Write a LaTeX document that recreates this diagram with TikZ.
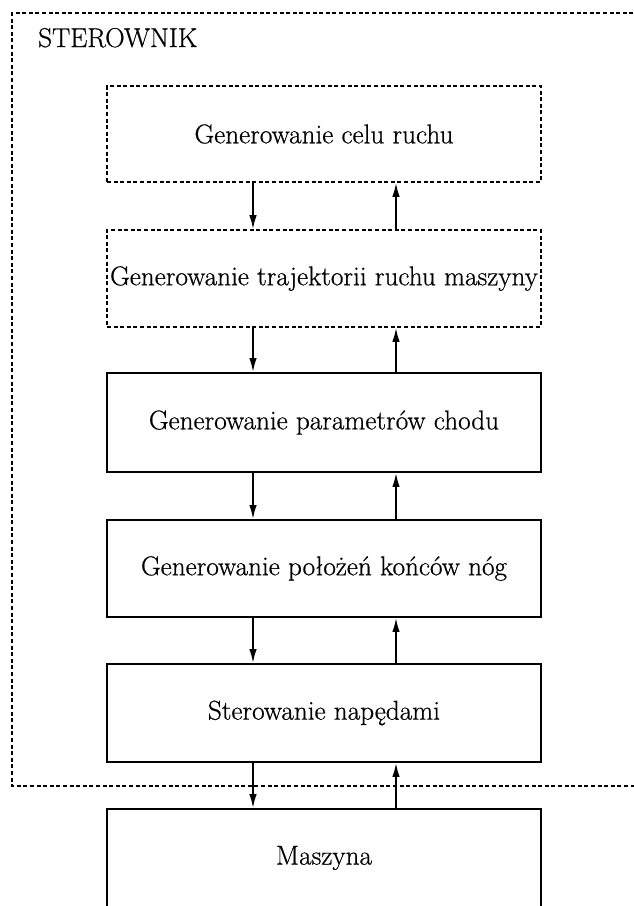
\documentclass[tikz,border=0pt]{standalone}
\usepackage{fontspec}
\setmainfont{Latin Modern Roman}[FakeBold=0.6]
\usetikzlibrary{arrows.meta}
\begin{document}
\begin{tikzpicture}[x=1pt,y=-1pt,
  every node/.style={font=\fontsize{27.2}{32}\selectfont},
  blk/.style={draw, line width=1.9pt, minimum width=434pt, inner sep=0pt, line join=miter},
  dblk/.style={draw, line width=1.6pt, dash pattern=on 4pt off 2.6pt, minimum width=434pt, inner sep=0pt},
  arr/.style={line width=1.8pt, -{Latex[length=14pt,width=7.5pt]}},
  outer/.style={line width=1.4pt, dash pattern=on 4pt off 2.6pt}]
\useasboundingbox (0,0) rectangle (634,906);
\fill[white] (0,0) rectangle (634,906);
% outer controller frame
\draw[outer] (640,13) -- (12,13) -- (12,786) -- (640,786);
\node[anchor=base west, inner sep=0pt] (ster) at (38,47) {STEROWNIK};
% blocks
\node[dblk, minimum height=96pt] (b1) at (324,134) {Generowanie celu ruchu};
\node[dblk, minimum height=97pt] (b2) at (324,278.5) {Generowanie trajektorii ruchu maszyny};
\node[blk, minimum height=99pt] (b3) at (324,422.5) {Generowanie parametrów chodu};
\node[blk, minimum height=97pt] (b4) at (324,568.5) {Generowanie położeń końców nóg};
\node[blk, minimum height=98pt] (b5) at (324,713) {Sterowanie napędami};
\node[blk, minimum height=98pt] (m) at (324,858) {Maszyna};
% arrow columns
\coordinate (dl) at (253,0);
\coordinate (ul) at (396,0);
\foreach \a/\b in {b1/b2,b2/b3,b3/b4,b4/b5,b5/m}{
  \draw[arr] (\a.south -| dl) -- (\b.north -| dl);
  \draw[arr] (\b.north -| ul) -- (\a.south -| ul);
}
\end{tikzpicture}
\end{document}
